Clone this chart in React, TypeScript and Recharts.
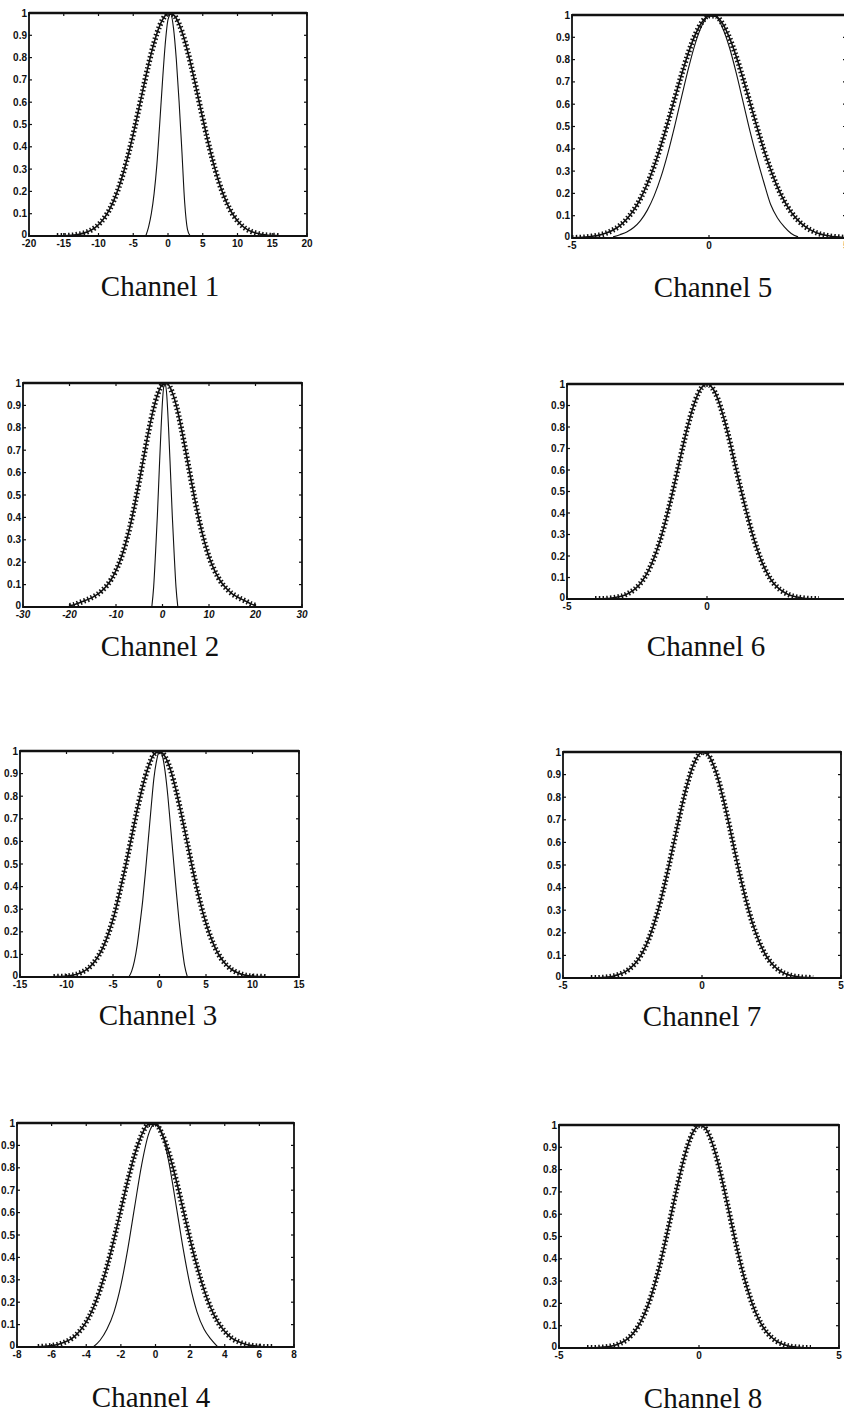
import React from "react";
import { LineChart, Line, XAxis, YAxis, ReferenceArea, ReferenceLine } from "recharts";

// shared y axis
const Y_TICKS = [0, 0.1, 0.2, 0.3, 0.4, 0.5, 0.6, 0.7, 0.8, 0.9, 1];
const Y_TICK_LABELS = ["0", "0.1", "0.2", "0.3", "0.4", "0.5", "0.6", "0.7", "0.8", "0.9", "1"];

// x tick values per channel
const CH1_X_TICKS = [-20, -15, -10, -5, 0, 5, 10, 15, 20];
const CH2_X_TICKS = [-30, -20, -10, 0, 10, 20, 30];
const CH3_X_TICKS = [-15, -10, -5, 0, 5, 10, 15];
const CH4_X_TICKS = [-8, -6, -4, -2, 0, 2, 4, 6, 8];
const NARROW_X_TICKS = [-5, 0, 5];

// Channel 1
const ch1MarkedX = [-16, -15.2, -14.4, -13.6, -12.8, -12, -11.2, -10.4, -9.6, -8.8, -8, -7.2, -6.4, -5.6, -4.8, -4, -3.2, -2.4, -1.6, -0.8, 0, 0.8, 1.6, 2.4, 3.2, 4, 4.8, 5.6, 6.4, 7.2, 8, 8.8, 9.6, 10.4, 11.2, 12, 12.8, 13.6, 14.4, 15.2, 16];
const ch1MarkedY = [0.001, 0.001, 0.002, 0.004, 0.008, 0.014, 0.024, 0.04, 0.064, 0.098, 0.145, 0.207, 0.286, 0.379, 0.485, 0.599, 0.714, 0.82, 0.908, 0.969, 0.998, 0.991, 0.95, 0.877, 0.781, 0.671, 0.556, 0.444, 0.342, 0.254, 0.182, 0.126, 0.084, 0.054, 0.033, 0.02, 0.012, 0.006, 0.003, 0.002, 0.001];
const ch1ThinX = [-3.2, -2.8, -2.4, -2, -1.6, -1.2, -0.8, -0.4, 0, 0.4, 0.8, 1.2, 1.6, 2, 2.4, 2.8, 3.2];
const ch1ThinY = [0, 0.04, 0.1, 0.19, 0.32, 0.5, 0.69, 0.86, 0.97, 0.995, 0.93, 0.79, 0.6, 0.38, 0.15, 0.03, 0];

// Channel 2
const ch2MarkedX = [-20, -19, -18, -17, -16, -15, -14, -13, -12, -11, -10, -9, -8, -7, -6, -5, -4, -3, -2, -1, 0, 1, 2, 3, 4, 5, 6, 7, 8, 9, 10, 11, 12, 13, 14, 15, 16, 17, 18, 19, 20];
const ch2MarkedY = [0.006, 0.01, 0.018, 0.026, 0.034, 0.044, 0.056, 0.073, 0.095, 0.124, 0.163, 0.213, 0.278, 0.358, 0.454, 0.561, 0.673, 0.783, 0.879, 0.952, 0.993, 0.997, 0.963, 0.896, 0.803, 0.695, 0.583, 0.475, 0.377, 0.293, 0.224, 0.172, 0.131, 0.1, 0.077, 0.059, 0.046, 0.035, 0.025, 0.014, 0.007];
const ch2ThinX = [-2.3, -1.9, -1.5, -1.1, -0.7, -0.3, 0.1, 0.5, 0.9, 1.3, 1.7, 2.1, 2.5, 2.9, 3.3];
const ch2ThinY = [0, 0.09, 0.24, 0.41, 0.61, 0.8, 0.95, 1, 0.95, 0.8, 0.61, 0.41, 0.24, 0.09, 0];

// Channel 3
const ch3MarkedX = [-11.4, -10.8, -10.2, -9.6, -9, -8.4, -7.8, -7.2, -6.6, -6, -5.4, -4.8, -4.2, -3.6, -3, -2.4, -1.8, -1.2, -0.6, 0, 0.6, 1.2, 1.8, 2.4, 3, 3.6, 4.2, 4.8, 5.4, 6, 6.6, 7.2, 7.8, 8.4, 9, 9.6, 10.2, 10.8, 11.4];
const ch3MarkedY = [0.001, 0.002, 0.003, 0.006, 0.011, 0.02, 0.034, 0.057, 0.091, 0.138, 0.203, 0.285, 0.39, 0.5, 0.62, 0.74, 0.845, 0.93, 0.985, 0.998, 0.975, 0.915, 0.822, 0.71, 0.59, 0.47, 0.36, 0.265, 0.188, 0.128, 0.084, 0.053, 0.032, 0.019, 0.01, 0.005, 0.003, 0.002, 0.001];
const ch3ThinX = [-3.3, -3, -2.7, -2.4, -2.1, -1.8, -1.5, -1.2, -0.9, -0.6, -0.3, 0, 0.3, 0.6, 0.9, 1.2, 1.5, 1.8, 2.1, 2.4, 2.7, 3];
const ch3ThinY = [0, 0.025, 0.07, 0.14, 0.235, 0.34, 0.47, 0.61, 0.75, 0.88, 0.96, 1, 0.98, 0.91, 0.8, 0.66, 0.52, 0.38, 0.25, 0.14, 0.05, 0];

// Channel 4
const ch4MarkedX = [-6.8, -6.4, -6, -5.6, -5.2, -4.8, -4.4, -4, -3.6, -3.2, -2.8, -2.4, -2, -1.6, -1.2, -0.8, -0.4, 0, 0.4, 0.8, 1.2, 1.6, 2, 2.4, 2.8, 3.2, 3.6, 4, 4.4, 4.8, 5.2, 5.6, 6, 6.4, 6.8];
const ch4MarkedY = [0.001, 0.003, 0.006, 0.012, 0.023, 0.04, 0.069, 0.112, 0.173, 0.256, 0.359, 0.48, 0.612, 0.743, 0.859, 0.947, 0.994, 0.994, 0.947, 0.859, 0.743, 0.612, 0.48, 0.359, 0.256, 0.173, 0.112, 0.069, 0.04, 0.023, 0.012, 0.006, 0.003, 0.001, 0.001];
const ch4ThinX = [-3.6, -3.2, -2.8, -2.4, -2, -1.6, -1.2, -0.8, -0.4, 0, 0.4, 0.8, 1.2, 1.6, 2, 2.4, 2.8, 3.2, 3.6];
const ch4ThinY = [0, 0.03, 0.08, 0.156, 0.275, 0.438, 0.628, 0.813, 0.95, 1, 0.95, 0.813, 0.628, 0.438, 0.275, 0.156, 0.08, 0.035, 0];

// Channel 5
const ch5MarkedX = [-5, -4.75, -4.5, -4.25, -4, -3.75, -3.5, -3.25, -3, -2.75, -2.5, -2.25, -2, -1.75, -1.5, -1.25, -1, -0.75, -0.5, -0.25, 0, 0.25, 0.5, 0.75, 1, 1.25, 1.5, 1.75, 2, 2.25, 2.5, 2.75, 3, 3.25, 3.5, 3.75, 4, 4.25, 4.5, 4.75, 5];
const ch5MarkedY = [0.001, 0.002, 0.004, 0.008, 0.013, 0.022, 0.036, 0.056, 0.085, 0.125, 0.177, 0.243, 0.323, 0.416, 0.519, 0.627, 0.733, 0.831, 0.912, 0.969, 0.997, 0.994, 0.96, 0.897, 0.812, 0.712, 0.605, 0.498, 0.396, 0.306, 0.228, 0.165, 0.116, 0.079, 0.052, 0.033, 0.02, 0.012, 0.007, 0.004, 0.002];
const ch5ThinX = [-3.5, -3.25, -3, -2.75, -2.5, -2.25, -2, -1.75, -1.5, -1.25, -1, -0.75, -0.5, -0.25, 0, 0.25, 0.5, 0.75, 1, 1.25, 1.5, 1.75, 2, 2.25, 2.5, 2.75, 3, 3.25];
const ch5ThinY = [0.005, 0.015, 0.027, 0.047, 0.078, 0.125, 0.19, 0.275, 0.381, 0.503, 0.633, 0.761, 0.873, 0.955, 0.996, 0.992, 0.941, 0.853, 0.737, 0.607, 0.477, 0.358, 0.25, 0.15, 0.09, 0.05, 0.02, 0.005];

// Channels 6-8 (single curve each)
const narrowX = [-4, -3.8, -3.6, -3.4, -3.2, -3, -2.8, -2.6, -2.4, -2.2, -2, -1.8, -1.6, -1.4, -1.2, -1, -0.8, -0.6, -0.4, -0.2, 0, 0.2, 0.4, 0.6, 0.8, 1, 1.2, 1.4, 1.6, 1.8, 2, 2.2, 2.4, 2.6, 2.8, 3, 3.2, 3.4, 3.6, 3.8, 4];
const ch6Y = [0.001, 0.001, 0.002, 0.005, 0.009, 0.015, 0.027, 0.044, 0.069, 0.106, 0.157, 0.223, 0.306, 0.404, 0.513, 0.629, 0.744, 0.846, 0.929, 0.982, 1, 0.98, 0.926, 0.842, 0.741, 0.626, 0.515, 0.41, 0.312, 0.228, 0.16, 0.108, 0.07, 0.045, 0.028, 0.016, 0.009, 0.005, 0.002, 0.001, 0.001];
const ch7Y = [0.001, 0.001, 0.002, 0.004, 0.008, 0.015, 0.025, 0.041, 0.065, 0.1, 0.148, 0.211, 0.29, 0.385, 0.492, 0.606, 0.72, 0.825, 0.912, 0.972, 0.999, 0.99, 0.946, 0.872, 0.774, 0.664, 0.548, 0.437, 0.336, 0.249, 0.178, 0.122, 0.081, 0.052, 0.032, 0.019, 0.011, 0.006, 0.003, 0.002, 0.001];
const ch8Y = [0.001, 0.001, 0.002, 0.004, 0.007, 0.012, 0.022, 0.036, 0.059, 0.092, 0.138, 0.199, 0.277, 0.371, 0.479, 0.594, 0.711, 0.819, 0.909, 0.971, 0.999, 0.989, 0.944, 0.867, 0.767, 0.653, 0.536, 0.423, 0.322, 0.236, 0.166, 0.113, 0.074, 0.047, 0.028, 0.017, 0.009, 0.005, 0.003, 0.001, 0.001];

type Pt = { x: number; y: number };
const pts = (xs: number[], ys: number[]): Pt[] => xs.map((x, i) => ({ x, y: ys[i] }));

interface PanelSpec {
  name: string;
  left: number;
  top: number;
  right: number;
  bottom: number;
  xDomain: [number, number];
  xTicks: number[];
  italic?: boolean;
  marked: Pt[];
  thin?: Pt[];
  labelX: number;
  labelY: number;
}

const PANELS: PanelSpec[] = [
  { name: "Channel 1", left: 29, top: 13, right: 307, bottom: 236, xDomain: [-20, 20], xTicks: CH1_X_TICKS, marked: pts(ch1MarkedX, ch1MarkedY), thin: pts(ch1ThinX, ch1ThinY), labelX: 160, labelY: 296 },
  { name: "Channel 2", left: 23, top: 383, right: 302, bottom: 607, xDomain: [-30, 30], xTicks: CH2_X_TICKS, italic: true, marked: pts(ch2MarkedX, ch2MarkedY), thin: pts(ch2ThinX, ch2ThinY), labelX: 160, labelY: 656 },
  { name: "Channel 3", left: 20, top: 751, right: 299, bottom: 977, xDomain: [-15, 15], xTicks: CH3_X_TICKS, marked: pts(ch3MarkedX, ch3MarkedY), thin: pts(ch3ThinX, ch3ThinY), labelX: 158, labelY: 1025 },
  { name: "Channel 4", left: 17, top: 1123, right: 294, bottom: 1347, xDomain: [-8, 8], xTicks: CH4_X_TICKS, marked: pts(ch4MarkedX, ch4MarkedY), thin: pts(ch4ThinX, ch4ThinY), labelX: 151, labelY: 1407 },
  { name: "Channel 5", left: 572, top: 15, right: 846, bottom: 238, xDomain: [-5, 5], xTicks: NARROW_X_TICKS, marked: pts(ch5MarkedX, ch5MarkedY), thin: pts(ch5ThinX, ch5ThinY), labelX: 713, labelY: 297 },
  { name: "Channel 6", left: 567, top: 384, right: 847, bottom: 599, xDomain: [-5, 5], xTicks: NARROW_X_TICKS, marked: pts(narrowX, ch6Y), labelX: 706, labelY: 656 },
  { name: "Channel 7", left: 563, top: 752, right: 841, bottom: 978, xDomain: [-5, 5], xTicks: NARROW_X_TICKS, marked: pts(narrowX, ch7Y), labelX: 702, labelY: 1026 },
  { name: "Channel 8", left: 559, top: 1125, right: 839, bottom: 1348, xDomain: [-5, 5], xTicks: NARROW_X_TICKS, marked: pts(narrowX, ch8Y), labelX: 703, labelY: 1408 },
];

const AXIS_FONT = '"Liberation Sans", Arial, sans-serif';
const INK = "#111";

function YTick(props: any) {
  const { x, y, payload, w } = props;
  const i = Y_TICKS.indexOf(payload.value);
  // the zero label sits a touch above the axis so it clears the x labels
  const dy = payload.value === 0 ? 1.5 : 3.5;
  return (
    <g>
      <line x1={x} x2={x + 3} y1={y} y2={y} stroke={INK} strokeWidth={1.2} />
      <line x1={x + w - 3} x2={x + w} y1={y} y2={y} stroke={INK} strokeWidth={1.2} />
      <text x={x - 2} y={y + dy} textAnchor="end" fontSize={10} fontWeight="bold" fontFamily={AXIS_FONT} fill={INK}>
        {i >= 0 ? Y_TICK_LABELS[i] : payload.value}
      </text>
    </g>
  );
}

function XTick(props: any) {
  const { x, y, payload, h, italic } = props;
  return (
    <g>
      <line x1={x} x2={x} y1={y} y2={y - 3} stroke={INK} strokeWidth={1.2} />
      <line x1={x} x2={x} y1={y - h} y2={y - h + 3} stroke={INK} strokeWidth={1.2} />
      <text x={x} y={y + 11} textAnchor="middle" fontSize={10} fontWeight="bold" fontStyle={italic ? "italic" : "normal"} fontFamily={AXIS_FONT} fill={INK}>
        {String(payload.value)}
      </text>
    </g>
  );
}

const ML = 30;
const MT = 4;
const MR = 6;
const XH = 18;

function Panel({ p }: { p: PanelSpec }) {
  const w = p.right - p.left;
  const h = p.bottom - p.top;
  return (
    <div style={{ position: "absolute", left: p.left - ML, top: p.top - MT }}>
      <LineChart width={w + ML + MR} height={h + MT + XH} margin={{ top: MT, right: MR, bottom: 0, left: 0 }}>
        <XAxis
          type="number"
          dataKey="x"
          domain={p.xDomain}
          ticks={p.xTicks}
          interval={0}
          allowDataOverflow
          axisLine={false}
          tickLine={false}
          tickSize={0}
          tickMargin={0}
          height={XH}
          tick={(t: any) => <XTick {...t} h={h} italic={p.italic} />}
        />
        <YAxis
          type="number"
          domain={[0, 1]}
          ticks={Y_TICKS}
          interval={0}
          allowDataOverflow
          width={ML}
          axisLine={false}
          tickLine={false}
          tickSize={0}
          tickMargin={0}
          tick={(t: any) => <YTick {...t} w={w} />}
        />
        <ReferenceArea
          x1={p.xDomain[0]}
          x2={p.xDomain[1]}
          y1={0}
          y2={1}
          fill="none"
          stroke={INK}
          strokeWidth={1.8}
          ifOverflow="visible"
        />
        {/* the top border prints heavier in the original */}
        <ReferenceLine y={1} stroke={INK} strokeWidth={2.6} ifOverflow="visible" />
        {p.thin && (
          <Line data={p.thin} dataKey="y" name="thin" type="monotone" stroke={INK} strokeWidth={1.1} dot={false} isAnimationActive={false} />
        )}
        <Line data={p.marked} dataKey="y" name="marked" type="monotone" stroke={INK} strokeWidth={1.6} dot={false} isAnimationActive={false} />
        <Line data={p.marked} dataKey="y" name="markers" type="monotone" stroke={INK} strokeWidth={5.5} strokeDasharray="1.5 2.3" dot={false} isAnimationActive={false} />
      </LineChart>
    </div>
  );
}

export default function App() {
  return (
    <div style={{ position: "absolute", left: 0, top: 0, width: 844, height: 1416, overflow: "hidden", background: "#fff" }}>
      {PANELS.map((p) => (
        <Panel key={p.name} p={p} />
      ))}
      <svg width={844} height={1416} style={{ position: "absolute", left: 0, top: 0, pointerEvents: "none" }}>
        {PANELS.map((p) => (
          <text key={p.name} x={p.labelX} y={p.labelY} textAnchor="middle" fontSize={29} fontFamily='"Liberation Serif", "Times New Roman", serif' fill={INK}>
            {p.name}
          </text>
        ))}
      </svg>
    </div>
  );
}
